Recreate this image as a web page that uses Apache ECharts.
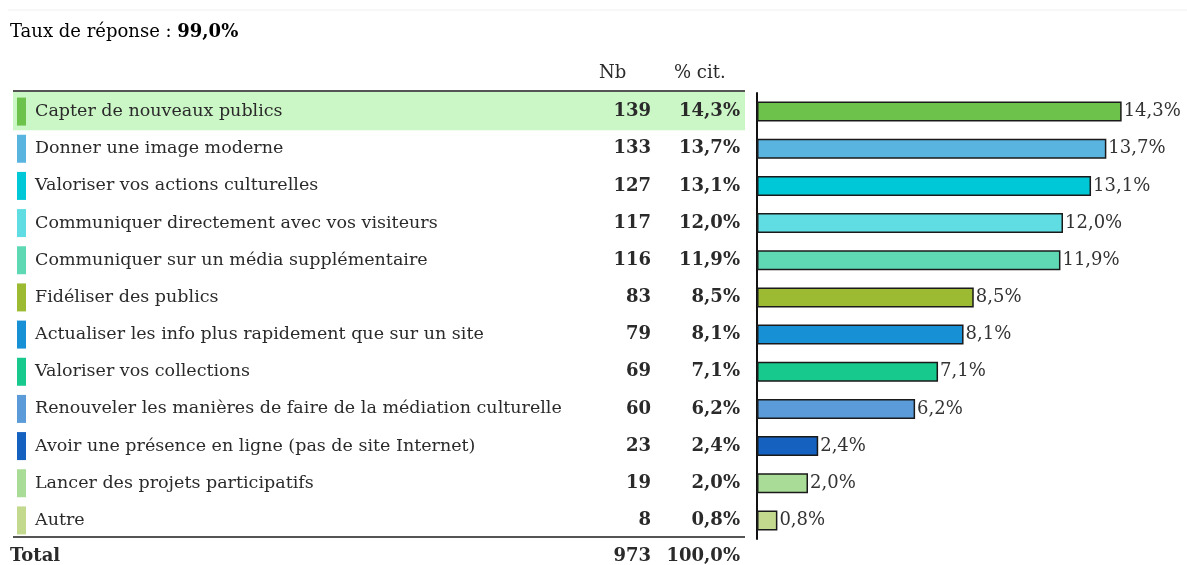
<!DOCTYPE html>
<html>
<head>
<meta charset="utf-8">
<title>Taux de réponse</title>
<script src="https://cdn.jsdelivr.net/npm/echarts@6/dist/echarts.min.js"></script>
<style>html,body{margin:0;background:#fff;}</style>
</head>
<body>
<div id="main" style="width:1187px;height:565px;"></div>
<script>
var categories = [
    'Capter de nouveaux publics',
    'Donner une image moderne',
    'Valoriser vos actions culturelles',
    'Communiquer directement avec vos visiteurs',
    'Communiquer sur un média supplémentaire',
    'Fidéliser des publics',
    'Actualiser les info plus rapidement que sur un site',
    'Valoriser vos collections',
    'Renouveler les manières de faire de la médiation culturelle',
    'Avoir une présence en ligne (pas de site Internet)',
    'Lancer des projets participatifs',
    'Autre'
];
var nbValues = [139, 133, 127, 117, 116, 83, 79, 69, 60, 23, 19, 8];
var pctValues = [14.3, 13.7, 13.1, 12.0, 11.9, 8.5, 8.1, 7.1, 6.2, 2.4, 2.0, 0.8];
var barColors = ['#6cc24a', '#5ab4e0', '#00c8d6', '#5fdde3', '#5fd9b4', '#9cbb33',
                 '#1890d6', '#17c98c', '#5b9bd9', '#1561bf', '#a9dc97', '#c3d98e'];
var totalNb = 973;
var totalPct = 100.0;
var tauxReponse = 99.0;

var serif = 'DejaVu Serif';
var txt = '#2a2a2a';

function fr(v) { return v.toFixed(1).replace('.', ',') + '%'; }

var rich = {
    gap: {width: 9, align: 'left'},
    name: {width: 565, align: 'left', fontFamily: serif, fontSize: 17.5, color: txt},
    nb: {width: 51, align: 'right', fontFamily: serif, fontSize: 18, fontWeight: 'bold', color: txt},
    pct: {width: 89, align: 'right', fontFamily: serif, fontSize: 18, fontWeight: 'bold', color: txt}
};
barColors.forEach(function (c, i) {
    rich['sw' + i] = {width: 9, height: 28, align: 'left', backgroundColor: c};
});

var myChart = echarts.init(document.getElementById('main'));

var option = {
    animation: false,
    grid: {left: 757, right: 22, top: 93, bottom: 26},
    xAxis: {type: 'value', min: 0, max: 16, show: false},
    yAxis: {
        type: 'category',
        inverse: true,
        data: categories,
        axisTick: {show: false},
        axisLine: {show: true, lineStyle: {color: '#111', width: 2}},
        axisLabel: {
            margin: 17,
            formatter: function (value, i) {
                return '{sw' + i + '|}{gap|}{name|' + value + '}{nb|' + nbValues[i] + '}{pct|' + fr(pctValues[i]) + '}';
            },
            rich: rich
        }
    },
    series: [{
        type: 'bar',
        barWidth: 20,
        data: pctValues.map(function (v, i) {
            return {value: v, itemStyle: {color: barColors[i]}};
        }),
        itemStyle: {borderColor: '#1a1a1a', borderWidth: 1.5},
        label: {
            show: true,
            position: 'right',
            distance: 2,
            fontFamily: serif,
            fontSize: 18,
            color: '#333',
            formatter: function (p) { return fr(p.value); }
        }
    }]
};
myChart.setOption(option);

// décor du tableau : bandeau, filets, en-têtes, total
var y0 = myChart.convertToPixel({yAxisIndex: 0}, categories[0]);
var y1 = myChart.convertToPixel({yAxisIndex: 0}, categories[1]);
var row = y1 - y0;
var yTop = y0 - row / 2 - 2;
var yBot = yTop + row * categories.length;

myChart.setOption({
    graphic: [
        {type: 'line', z: -5, shape: {x1: 8, y1: 10, x2: 1187, y2: 10}, style: {stroke: '#f0f0f0', lineWidth: 1}},
        {type: 'rect', z: -10, shape: {x: 13, y: yTop + 1, width: 732, height: row + 1}, style: {fill: '#cbf6c5'}},
        {type: 'line', shape: {x1: 13, y1: yTop, x2: 745, y2: yTop}, style: {stroke: '#555', lineWidth: 2}},
        {type: 'line', shape: {x1: 13, y1: yBot, x2: 745, y2: yBot}, style: {stroke: '#555', lineWidth: 2}},
        {
            type: 'text', x: 10, y: 32,
            style: {
                text: '{a|Taux de réponse : }{b|' + fr(tauxReponse) + '}',
                verticalAlign: 'middle',
                rich: {
                    a: {fontFamily: serif, fontSize: 18, color: txt},
                    b: {fontFamily: serif, fontSize: 18, fontWeight: 'bold', color: txt}
                }
            }
        },
        {type: 'text', x: 599, y: 73, style: {text: 'Nb', fontFamily: serif, fontSize: 18, fill: txt, verticalAlign: 'middle'}},
        {type: 'text', x: 674, y: 73, style: {text: '% cit.', fontFamily: serif, fontSize: 18, fill: txt, verticalAlign: 'middle'}},
        {type: 'text', x: 10, y: yBot + 19, style: {text: 'Total', fontFamily: serif, fontSize: 18, fontWeight: 'bold', fill: txt, verticalAlign: 'middle'}},
        {type: 'text', x: 651, y: yBot + 19, style: {text: String(totalNb), fontFamily: serif, fontSize: 18, fontWeight: 'bold', fill: txt, align: 'right', verticalAlign: 'middle'}},
        {type: 'text', x: 740, y: yBot + 19, style: {text: fr(totalPct), fontFamily: serif, fontSize: 18, fontWeight: 'bold', fill: txt, align: 'right', verticalAlign: 'middle'}}
    ]
});
</script>
</body>
</html>
